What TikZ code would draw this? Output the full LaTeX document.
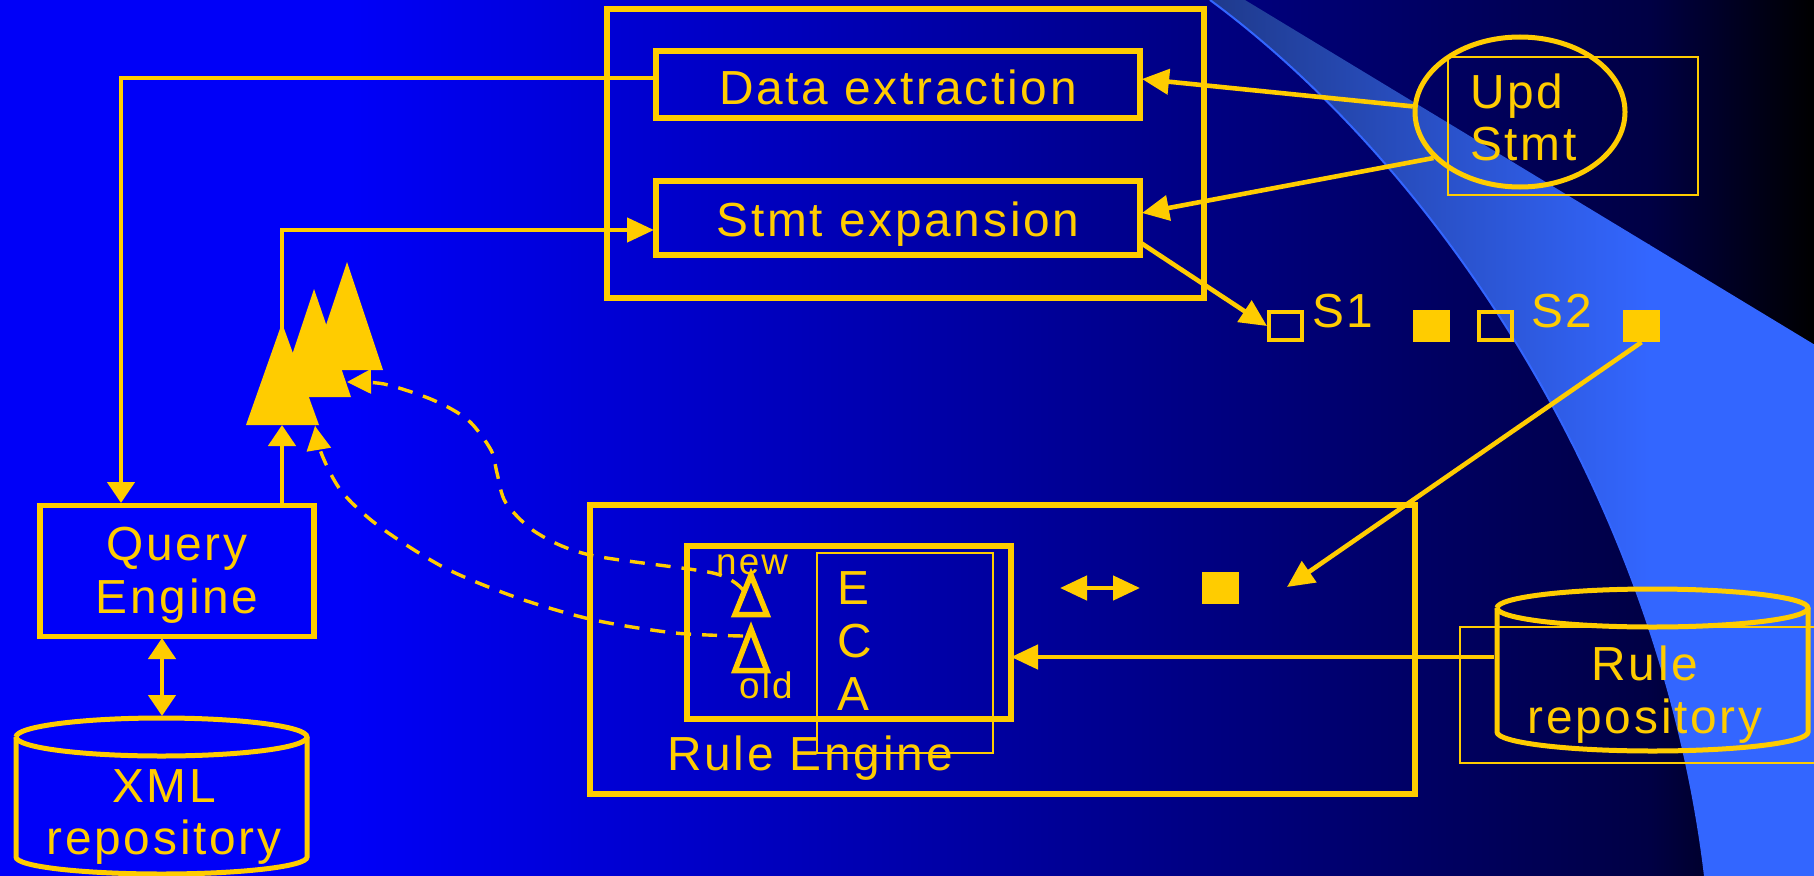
\documentclass[tikz,border=0pt]{standalone}
\usepackage{fontspec}
\usepackage{tikz}
\usetikzlibrary{arrows.meta,shapes.geometric}
\newfontfamily\slidefont[LetterSpace=5.8]{Liberation Sans}
\definecolor{slideyellow}{HTML}{FFCC00}
\definecolor{slideblue}{HTML}{0000F8}
\definecolor{slidenavy}{HTML}{000044}
\definecolor{swoopdark}{HTML}{1F3A8C}
\definecolor{swooplight}{HTML}{3366FF}
\tikzset{
  lbl/.style={text=slideyellow,inner sep=0bp,font=\slidefont\fontsize{48}{53}\selectfont},
  smalllbl/.style={text=slideyellow,inner sep=0bp,font=\slidefont\fontsize{37}{40}\selectfont},
  box/.style={draw=slideyellow,line width=5.3bp,inner sep=0bp},
  thinbox/.style={draw=slideyellow,line width=1.2bp,inner sep=0bp},
  solidsq/.style={fill=slideyellow,inner sep=0bp,minimum width=37bp,minimum height=32bp},
  opensq/.style={draw=slideyellow,line width=4bp,inner sep=0bp,minimum width=33bp,minimum height=28bp},
  wire/.style={draw=slideyellow,line width=4.6bp},
  hflow/.style={wire,-{Triangle[length=27bp,width=24bp]}},
  vflow/.style={wire,-{Triangle[length=21bp,width=27bp]}},
  sflow/.style={wire,-{Triangle[length=27bp,width=25bp]}},
  dashflow/.style={draw=slideyellow,line width=3.4bp,dash pattern=on 15bp off 11bp,-{Triangle[length=24bp,width=24bp]}},
  can/.style={draw=slideyellow,line width=5bp},
  deltamark/.style={draw=slideyellow,line width=5.5bp},
}
\newcommand{\swoopedge}{(1210,0) .. controls (1440,170) and (1660,500) .. (1705,876)}
\begin{document}
\begin{tikzpicture}[x=1bp,y=-1bp]
\useasboundingbox (0,0) rectangle (1814,876);
% backdrop
\fill[slideblue] (-5,-5) rectangle (351,885);
\shade[left color=slideblue,right color=slidenavy] (350,-5) rectangle (1651,885);
\shade[left color=slidenavy,right color=black] (1650,-5) rectangle (1814,885);
\fill[black] (1813.5,-5) rectangle (1820,885);
\begin{scope}
\clip \swoopedge -- (1705,885) -- (1820,885) -- (1820,348) -- (1245,0) -- cycle;
\shade[left color=swoopdark,right color=swooplight] (1210,-5) rectangle (1650,885);
\fill[swooplight] (1649,-5) rectangle (1820,885);
\end{scope}
\draw[swooplight,line width=2bp] \swoopedge;
% statement part
\node (stmtframe) [box,minimum width=597bp,minimum height=289bp] at (905.5,153.5) {};
\node (databox) [box,lbl,minimum width=484bp,minimum height=67bp,text height=40bp,text depth=0bp] at (898,84.5) {Data extraction};
\node (stmtbox) [box,lbl,minimum width=484bp,minimum height=74bp,text height=37bp,text depth=0bp] at (898,218) {Stmt expansion};
\node (updellipse) [ellipse,draw=slideyellow,line width=5bp,inner sep=0bp,minimum width=210bp,minimum height=150bp] at (1520,112) {};
\node (updframe) [thinbox,minimum width=250bp,minimum height=138bp] at (1573,126) {};
\node (updtext) [lbl,align=left,anchor=west] at (1470,117.5) {Upd\\Stmt};
\coordinate (datain) at (1142,79);
\coordinate (stmtin) at (1142,213);
\coordinate (stmtout) at (1141,243);
\draw[sflow] (updellipse.177) -- (datain);
\draw[sflow] (updellipse.208) -- (stmtin);
% fragments
\node (s1open) [opensq] at (1285.5,326) {};
\node (s1solid) [solidsq] at (1431.5,326) {};
\node (s2open) [opensq] at (1495.5,326) {};
\node (s2solid) [solidsq] at (1641.5,326) {};
\node (s1text) [lbl,anchor=base west] at (1312,327) {S1};
\node (s2text) [lbl,anchor=base west] at (1531,327) {S2};
\draw[sflow] (stmtout) -- (s1open.west);
% query side
\node (queryengine) [box,lbl,align=center,minimum width=274bp,minimum height=131bp,text depth=2bp] at (177,571) {Query\\Engine};
\coordinate (dataleft) at (656,78);
\coordinate (corner) at (121,78);
\coordinate (queryin) at (121,503);
\draw[vflow] (dataleft) -- (corner) -- (queryin);
\fill[slideyellow] (347,262) -- (383,370) -- (311,370) -- cycle;
\fill[slideyellow] (314,289) -- (351,397) -- (278,397) -- cycle;
\fill[slideyellow] (282,323) -- (319,425) -- (246,425) -- cycle;
\coordinate (conebase) at (282,425);
\coordinate (conetop) at (282,330);
\coordinate (stmtleft) at (654,230);
\coordinate (bend) at (282,230);
\draw[vflow] (queryengine.north -| conebase) -- (conebase);
\draw[hflow] (conetop) -- (bend) -- (stmtleft);
% xml repository
\node (xmlrepo) [lbl,align=center] at (164,817) {XML\\repository};
\coordinate (xmlnw) at (16,737);
\coordinate (xmlsw) at (16,857);
\coordinate (xmlne) at (307,737);
\draw[can] (xmlnw) arc[start angle=180,end angle=-180,x radius=145.5bp,y radius=-19bp];
\draw[can] (xmlnw) -- (xmlsw) arc[start angle=180,end angle=360,x radius=145.5bp,y radius=17bp] -- (xmlne);
\coordinate (xmltop) at (162,716);
\coordinate (querybot) at (162,638);
\draw[wire,{Triangle[length=21bp,width=27bp]}-{Triangle[length=21bp,width=27bp]}] (querybot) -- (xmltop);
% rule engine
\node (ruleengine) [box,minimum width=825bp,minimum height=289bp] at (1002.5,649.5) {};
\node (ecabox) [box,minimum width=324bp,minimum height=173bp] at (849,632.5) {};
\node (ecaframe) [thinbox,minimum width=176bp,minimum height=200bp] at (905,653) {};
\node (ecatext) [lbl,align=left,anchor=west] at (837,641) {E\\C\\A};
\node (ruleenginetext) [lbl,anchor=base west] at (667,770) {Rule Engine};
\node (newtext) [smalllbl,anchor=base west] at (716,574) {new};
\node (oldtext) [smalllbl,anchor=base west] at (739,698) {old};
\draw[deltamark] (751,575) -- (767,614.5) -- (735,614.5) -- cycle;
\draw[deltamark] (751,629) -- (767,670.5) -- (735,670.5) -- cycle;
\coordinate (newtail) at (743,590);
\coordinate (oldtail) at (743,636);
\coordinate (conetipa) at (347,382);
\coordinate (conetipb) at (315,426);
\draw[dashflow] plot[smooth] coordinates {(newtail) (713,573) (590,555) (537,533) (506,503) (497,473) (491,450) (468,420) (433,400) (384,384) (conetipa)};
\draw[dashflow] plot[smooth] coordinates {(oldtail) (675,633) (594,620) (518,598) (445,568) (380,527) (342,492) (322,455) (conetipb)};
\node (swapdot) [solidsq] at (1220.5,587.5) {};
\coordinate (swapleft) at (1060,588);
\coordinate (swapright) at (1140,588);
\draw[wire,{Triangle[length=27bp,width=24bp]}-{Triangle[length=27bp,width=24bp]}] (swapleft) -- (swapright);
\coordinate (swaptip) at (1287,587);
\draw[sflow] (s2solid.south) -- (swaptip);
% rule repository
\node (ruleframe) [thinbox,lbl,align=center,minimum width=370bp,minimum height=136bp] at (1645,695) {Rule\\repository};
\coordinate (rulenw) at (1497,608);
\coordinate (rulesw) at (1497,732);
\coordinate (rulene) at (1808,608);
\draw[can] (rulenw) arc[start angle=180,end angle=-180,x radius=155.5bp,y radius=-19bp];
\draw[can] (rulenw) -- (rulesw) arc[start angle=180,end angle=360,x radius=155.5bp,y radius=19bp] -- (rulene);
\coordinate (ruleout) at (1494,657);
\coordinate (ecain) at (1011,657);
\draw[hflow] (ruleout) -- (ecain);
\end{tikzpicture}
\end{document}
